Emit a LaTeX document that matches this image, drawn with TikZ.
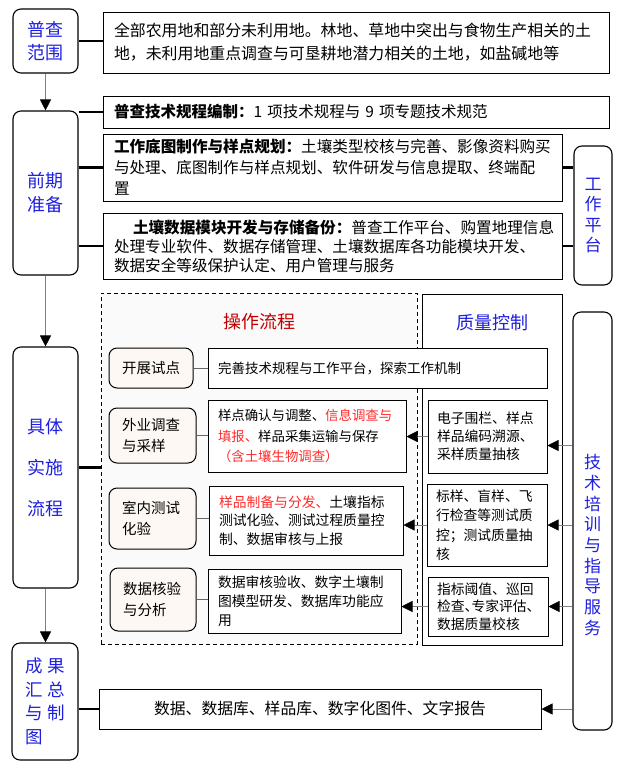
\documentclass[tikz,border=0pt]{standalone}
\usepackage{fontspec}
\setmainfont{Noto Sans CJK SC}
\usepackage{xcolor}
\usepackage{tikz}
\usetikzlibrary{arrows.meta,positioning}
\definecolor{stageblue}{HTML}{1F1FE0}
\definecolor{titlered}{HTML}{C00000}
\definecolor{hlred}{HTML}{FF2A2A}
\definecolor{peach}{HTML}{FDF8F4}
\definecolor{opsgray}{HTML}{FAFAFA}
\newcommand{\redtxt}[1]{\textcolor{hlred}{#1}}

\begin{document}
\begin{tikzpicture}[
  x=1pt, y=-1pt,
  stage/.style={draw, rounded corners=8pt, line width=1.1pt, fill=white, align=center,
                text=stageblue, font=\fontsize{18}{23}\selectfont, inner sep=0pt},
  txtbox/.style={draw, line width=1pt, fill=white, align=left, inner xsep=11pt,
                 inner ysep=0pt, font=\fontsize{15.5}{22}\selectfont},
  cell/.style={draw, line width=1pt, fill=white, align=left, inner xsep=10pt,
               inner ysep=0pt, font=\fontsize{13.5}{19}\selectfont},
  steplbl/.style={draw, rounded corners=8pt, line width=1pt, fill=peach, align=left,
                  inner xsep=13pt, inner ysep=0pt, font=\fontsize{14.5}{21}\selectfont},
  opsframe/.style={draw, dash pattern=on 4pt off 3pt, line width=1pt, fill=opsgray},
  paneltitle/.style={font=\fontsize{18}{22}\selectfont},
  link/.style={line width=2.6pt},
  tie/.style={line width=0.7pt, draw=gray!80!black},
  arr/.style={line width=0.7pt, draw=gray, -{Triangle[length=11pt, width=11pt, color=black]}}
]
\useasboundingbox (0,0) rectangle (627,769);

\node[stage, minimum width=65pt, minimum height=64pt] (scope) at (45.5,41) {普查\\范围};
\node[txtbox, text width=484pt, minimum height=61pt, font=\fontsize{15.9}{23}\selectfont] (scopetxt) at (356,42.5)
  {全部农用地和部分未利用地。林地、草地中突出与食物生产相关的土\\地，未利用地重点调查与可垦耕地潜力相关的土地，如盐碱地等};

\node[stage, minimum width=65pt, minimum height=164pt, font=\fontsize{18}{24}\selectfont] (prep) at (45.5,193) {前期\\准备};
\node[txtbox, text width=484pt, minimum height=32pt] (spec) at (356,112)
  {\textbf{普查技术规程编制：}1 项技术规程与 9 项专题技术规范};
\node[txtbox, text width=437pt, minimum height=67pt, font=\fontsize{15.6}{21}\selectfont] (basemap) at (332.5,167.5)
  {\textbf{工作底图制作与样点规划：}土壤类型校核与完善、影像资料购买\\与处理、底图制作与样点规划、软件研发与信息提取、终端配\\置};
\node[txtbox, text width=437pt, minimum height=66pt, font=\fontsize{15.6}{19}\selectfont] (dbdev) at (332.5,246)
  {\hspace*{19pt}\textbf{土壤数据模块开发与存储备份：}普查工作平台、购置地理信息\\处理专业软件、数据存储管理、土壤数据库各功能模块开发、\\数据安全等级保护认定、用户管理与服务};
\node[stage, minimum width=38pt, minimum height=139pt, font=\fontsize{17}{20.5}\selectfont] (platform) at (593,215.5) {工\\作\\平\\台};

\node[stage, minimum width=65pt, minimum height=241pt, font=\fontsize{18}{41}\selectfont] (impl) at (45.5,467.5) {具体\\实施\\流程};
\node[opsframe, minimum width=316pt, minimum height=351pt] (ops) at (259,468.5) {};
\node[paneltitle, text=titlered, below=17pt of ops.north] (opstitle) {操作流程};
\node[draw, line width=1pt, fill=white, minimum width=140pt, minimum height=351pt] (qc) at (492,469.5) {};
\node[paneltitle, text=stageblue, below=17pt of qc.north] (qctitle) {质量控制};
\node[stage, minimum width=39pt, minimum height=418pt] (train) at (592.5,521) {};
\node[text=stageblue, align=center, font=\fontsize{17}{20.7}\selectfont] (traintxt) at (592.5,545)
  {技\\术\\培\\训\\与\\指\\导\\服\\务};

\node[steplbl, minimum width=84pt, minimum height=40pt, align=center, inner xsep=0pt] (pilot) at (151,368) {开展试点};
\node[steplbl, text width=61pt, minimum height=55pt] (field) at (152.5,435.5) {外业调查\\与采样};
\node[steplbl, text width=61pt, minimum height=61pt] (lab) at (152.5,518.5) {室内测试\\化验};
\node[steplbl, text width=60pt, minimum height=63pt] (datachk) at (153,599.5) {数据核验\\与分析};

\node[cell, text width=319pt, minimum height=40pt] (pilottxt) at (377.5,368) {完善技术规程与工作平台，探索工作机制};
\node[cell, text width=178pt, minimum height=72pt, font=\fontsize{13.4}{20.5}\selectfont] (fieldtxt) at (307,436)
  {样点确认与调整、\redtxt{信息调查与}\\\redtxt{填报、}样品采集运输与保存\\\redtxt{（含土壤生物调查）}};
\node[cell, text width=174pt, minimum height=69pt, font=\fontsize{13.8}{18.5}\selectfont] (labtxt) at (306,520.5)
  {\redtxt{样品制备与分发、}土壤指标\\测试化验、测试过程质量控\\制、数据审核与上报};
\node[cell, text width=173pt, minimum height=64pt, font=\fontsize{13.8}{19}\selectfont] (datatxt) at (304.5,601)
  {数据审核验收、数字土壤制\\图模型研发、数据库功能应\\用};

\node[cell, text width=101pt, inner xsep=9pt, minimum height=73pt, font=\fontsize{13.8}{18}\selectfont] (qcfield) at (487.5,436.5)
  {电子围栏、样点\\样品编码溯源、\\采样质量抽核};
\node[cell, text width=102pt, inner xsep=9pt, minimum height=82pt, font=\fontsize{13.8}{19.5}\selectfont] (qclab) at (487,525)
  {标样、盲样、飞\\行检查等测试质\\控；测试质量抽\\核};
\node[cell, text width=102pt, inner xsep=9pt, minimum height=59pt, font=\fontsize{13.8}{17.5}\selectfont] (qcdata) at (488,606.5)
  {指标阈值、巡回\\检查\makebox[0.5em][l]{、}专家评估、\\数据质量校核};

\node[stage, minimum width=66pt, minimum height=117pt, align=left, font=\fontsize{17.5}{23.5}\selectfont] (final) at (45,701.5)
  {成\hspace{4.5pt}果\\汇\hspace{4.5pt}总\\与\hspace{4.5pt}制\\图};
\node[txtbox, align=center, minimum width=442pt, minimum height=40pt, font=\fontsize{15.8}{20}\selectfont] (output) at (320,709)
  {数据、数据库、样品库、数字化图件、文字报告};

\draw[link] (scope.east) -- (scope.east -| scopetxt.west);
\draw[link] (spec.west -| prep.east) -- (spec.west);
\draw[link] (basemap.west -| prep.east) -- (basemap.west);
\draw[link] (dbdev.west -| prep.east) -- (dbdev.west);
\draw[link] (basemap.east) -- (basemap.east -| platform.west);
\draw[link] (dbdev.east) -- (dbdev.east -| platform.west);
\draw[link] (impl.east) -- (impl.east -| ops.west);
\draw[link] (output.west -| final.east) -- (output.west);

\draw[arr] (scope) -- (prep);
\draw[arr] (prep) -- (impl);
\draw[arr] (impl.south) -- (impl.south |- final.north);

\draw[tie] (pilot.east) -- (pilot.east -| pilottxt.west);
\draw[tie] (field.east) -- (field.east -| fieldtxt.west);
\draw[tie] (lab.east) -- (lab.east -| labtxt.west);
\draw[tie] (datachk.east) -- (datachk.east -| datatxt.west);

\draw[arr] (qcfield.west) -- (qcfield.west -| fieldtxt.east);
\draw[arr] (qclab.west) -- (qclab.west -| labtxt.east);
\draw[arr] (qcdata.west) -- (qcdata.west -| datatxt.east);
\draw[arr] ([yshift=-9pt]qcfield.east -| train.west) -- ([yshift=-9pt]qcfield.east);
\draw[arr] (qclab.east -| train.west) -- (qclab.east);
\draw[arr] (qcdata.east -| train.west) -- (qcdata.east);
\draw[arr] (output.east -| train.west) -- (output.east);
\end{tikzpicture}
\end{document}
